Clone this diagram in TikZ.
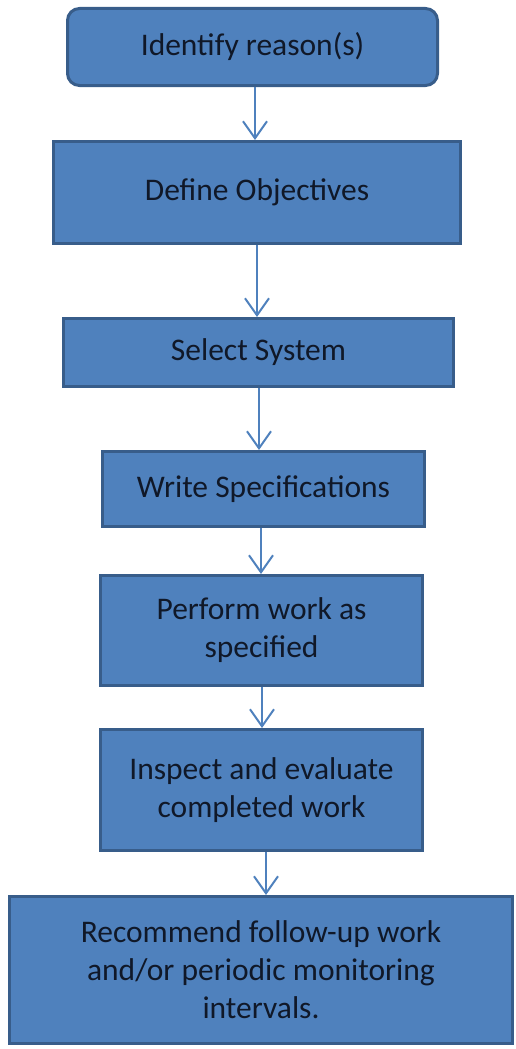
\documentclass[tikz,border=0pt]{standalone}
\usepackage{fontspec}
\setmainfont{Carlito}
\usetikzlibrary{arrows.meta}
\definecolor{boxfill}{RGB}{79,129,189}
\definecolor{boxline}{RGB}{56,93,138}
\definecolor{arrowcol}{RGB}{79,129,189}
\definecolor{txt}{RGB}{16,24,40}
\tikzset{
  stepbox/.style={draw=boxline, fill=boxfill, line width=3pt, inner sep=0pt,
    align=center, text=txt, font=\fontsize{31.5}{38}\selectfont},
  flow/.style={draw=arrowcol, line width=2pt,
    -{Straight Barb[length=17pt,width=24pt,line width=2pt]}}
}
\begin{document}
\begin{tikzpicture}[x=1pt,y=1pt]
\useasboundingbox (0,0) rectangle (516,-1049);
\node[stepbox, rounded corners=12pt, minimum width=370pt, minimum height=77pt] (s1) at (252.5,-47) {Identify reason(s)};
\node[stepbox, minimum width=407pt, minimum height=102pt] (s2) at (257,-192.5) {Define Objectives};
\node[stepbox, minimum width=390pt, minimum height=68pt] (s3) at (258.5,-352.5) {Select System};
\node[stepbox, minimum width=322pt, minimum height=75pt] (s4) at (263.5,-489) {Write Specifications};
\node[stepbox, minimum width=322pt, minimum height=110pt] (s5) at (261.5,-630.5) {Perform work as\\specified};
\node[stepbox, minimum width=322pt, minimum height=121pt] (s6) at (261.5,-790) {Inspect and evaluate\\completed work};
\node[stepbox, minimum width=503pt, minimum height=147pt] (s7) at (261,-970) {Recommend follow-up work\\and/or periodic monitoring\\intervals.};
\draw[flow] ([xshift=2.5pt]s1.south) -- ([xshift=2.5pt]s1.south |- s2.north);
\draw[flow] (s2.south) -- (s2.south |- s3.north);
\draw[flow] ([xshift=0.5pt]s3.south) -- ([xshift=0.5pt]s3.south |- s4.north);
\draw[flow] ([xshift=-2.5pt]s4.south) -- ([xshift=-2.5pt]s4.south |- s5.north);
\draw[flow] ([xshift=0.5pt]s5.south) -- ([xshift=0.5pt]s5.south |- s6.north);
\draw[flow] ([xshift=4.5pt]s6.south) -- ([xshift=4.5pt]s6.south |- s7.north);
\end{tikzpicture}
\end{document}
